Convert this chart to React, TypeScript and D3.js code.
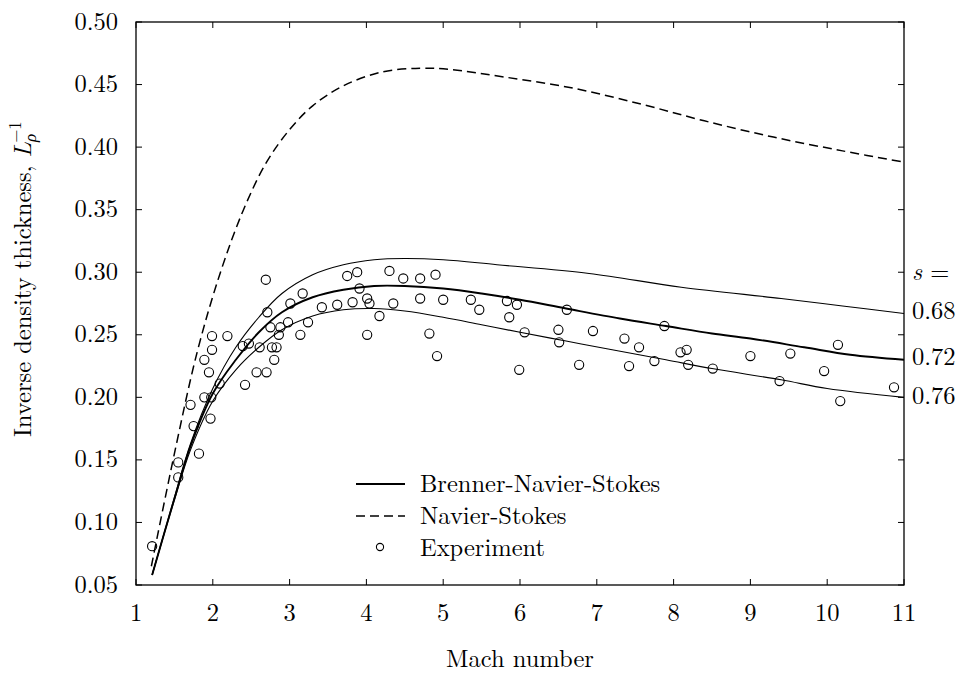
import React from "react";
import * as d3 from "d3";

// ---- data ----
const X_TICKS = [1, 2, 3, 4, 5, 6, 7, 8, 9, 10, 11];
const Y_TICKS = [0.05, 0.1, 0.15, 0.2, 0.25, 0.3, 0.35, 0.4, 0.45, 0.5];

const NS_X = [1.2, 1.5, 1.8, 2.1, 2.4, 2.7, 3.0, 3.3, 3.7, 4.2, 4.7, 5.1, 5.8, 6.7, 7.6, 8.4, 9.3, 10.2, 11];
const NS_Y = [0.065, 0.155, 0.237, 0.3, 0.35, 0.388, 0.414, 0.433, 0.449, 0.46, 0.463, 0.462, 0.456, 0.447, 0.434, 0.421, 0.408, 0.397, 0.388];

const S068_X = [1.21, 1.5, 1.71, 2.0, 2.3, 2.6, 2.9, 3.3, 3.7, 4.1, 4.5, 5.0, 5.7, 6.9, 8.1, 9.4, 10.2, 11];
const S068_Y = [0.058, 0.12, 0.163, 0.207, 0.24, 0.264, 0.283, 0.298, 0.306, 0.31, 0.311, 0.31, 0.306, 0.299, 0.288, 0.279, 0.273, 0.267];

const S072_X = [1.21, 1.5, 1.71, 2.0, 2.3, 2.6, 2.9, 3.3, 3.7, 4.1, 4.5, 5.0, 5.5, 6.0, 6.6, 7.3, 7.9, 8.5, 9.0, 9.7, 10.3, 11];
const S072_Y = [0.058, 0.119, 0.161, 0.203, 0.23, 0.252, 0.268, 0.28, 0.286, 0.289, 0.289, 0.287, 0.283, 0.278, 0.271, 0.263, 0.257, 0.251, 0.247, 0.24, 0.234, 0.23];

const S076_X = [1.21, 1.5, 1.71, 2.0, 2.3, 2.6, 2.9, 3.3, 3.7, 4.1, 4.5, 5.0, 5.5, 6.0, 6.6, 7.2, 7.9, 8.5, 9.4, 10.0, 11];
const S076_Y = [0.058, 0.118, 0.158, 0.197, 0.222, 0.24, 0.254, 0.265, 0.27, 0.271, 0.269, 0.264, 0.258, 0.252, 0.245, 0.238, 0.23, 0.223, 0.214, 0.207, 0.2];

const EXP_X = [1.21, 1.55, 1.55, 1.71, 1.75, 1.82, 1.97, 1.89, 1.98, 1.95, 1.89, 1.99, 1.99, 2.19, 2.09, 2.42, 2.39, 2.47, 2.61, 2.57, 2.7, 2.8, 2.77, 2.83, 2.86, 2.75, 2.88, 2.71, 2.69, 2.98, 3.14, 3.24, 3.01, 3.17, 3.42, 3.62, 3.75, 3.88, 3.91, 3.82, 4.01, 4.04, 4.01, 4.17, 4.3, 4.35, 4.48, 4.7, 4.9, 4.7, 5.0, 4.82, 4.92, 5.36, 5.47, 5.83, 5.96, 5.86, 6.06, 5.99, 6.61, 6.5, 6.51, 6.77, 6.95, 7.36, 7.55, 7.42, 7.75, 7.88, 8.09, 8.17, 8.19, 8.51, 9.0, 9.38, 9.52, 9.96, 10.14, 10.17, 10.87];
const EXP_Y = [0.081, 0.148, 0.136, 0.194, 0.177, 0.155, 0.183, 0.2, 0.2, 0.22, 0.23, 0.238, 0.249, 0.249, 0.211, 0.21, 0.241, 0.243, 0.24, 0.22, 0.22, 0.23, 0.24, 0.24, 0.25, 0.256, 0.256, 0.268, 0.294, 0.26, 0.25, 0.26, 0.275, 0.283, 0.272, 0.274, 0.297, 0.3, 0.287, 0.276, 0.279, 0.275, 0.25, 0.265, 0.301, 0.275, 0.295, 0.295, 0.298, 0.279, 0.278, 0.251, 0.233, 0.278, 0.27, 0.277, 0.274, 0.264, 0.252, 0.222, 0.27, 0.254, 0.244, 0.226, 0.253, 0.247, 0.24, 0.225, 0.229, 0.257, 0.236, 0.238, 0.226, 0.223, 0.233, 0.213, 0.235, 0.221, 0.242, 0.197, 0.208];

const S_LABELS = ["0.68", "0.72", "0.76"];
const LEGEND_LABELS = ["Brenner-Navier-Stokes", "Navier-Stokes", "Experiment"];

const W = 959;
const H = 675;
const FONT = "Latin Modern Roman";
const FS = 24.5;

export default function App() {
  const x = d3.scaleLinear().domain([1, 11]).range([136, 904]);
  const y = d3.scaleLinear().domain([0.05, 0.5]).range([585, 22]);

  const line = d3
    .line<[number, number]>()
    .x((d) => x(d[0]))
    .y((d) => y(d[1]))
    .curve(d3.curveCatmullRom.alpha(0.5));

  const zip = (xs: number[], ys: number[]) => xs.map((v, i) => [v, ys[i]] as [number, number]);

  const sCurves = [
    { xs: S068_X, ys: S068_Y, w: 1.1 },
    { xs: S072_X, ys: S072_Y, w: 1.9 },
    { xs: S076_X, ys: S076_Y, w: 1.1 },
  ];
  const sLabelY = [319, 365, 404];

  const [x0, x1] = x.range();
  const [yb, yt] = y.range();
  const tl = 6;

  return (
    <div style={{ position: "absolute", left: 0, top: 0, width: W, height: H, background: "#fff" }}>
      <svg width={W} height={H} style={{ display: "block" }}>
        <rect x={0} y={0} width={W} height={H} fill="#fff" />
        <defs>
          <clipPath id="plotclip">
            <rect x={x0} y={yt} width={x1 - x0} height={yb - yt} />
          </clipPath>
        </defs>

        {/* ticks */}
        {X_TICKS.map((t) => (
          <g key={"xt" + t}>
            <line x1={x(t)} x2={x(t)} y1={yb} y2={yb - tl} stroke="#000" strokeWidth={1} />
            <line x1={x(t)} x2={x(t)} y1={yt} y2={yt + tl} stroke="#000" strokeWidth={1} />
            <text x={x(t)} y={621} textAnchor="middle" fontSize={FS} fontFamily={FONT}>
              {t}
            </text>
          </g>
        ))}
        {Y_TICKS.map((t) => (
          <g key={"yt" + t}>
            <line x1={x0} x2={x0 + tl} y1={y(t)} y2={y(t)} stroke="#000" strokeWidth={1} />
            <line x1={x1} x2={x1 - tl} y1={y(t)} y2={y(t)} stroke="#000" strokeWidth={1} />
            <text x={118} y={y(t) + 7.5} textAnchor="end" fontSize={FS} fontFamily={FONT}>
              {t.toFixed(2)}
            </text>
          </g>
        ))}

        {/* curves */}
        <g clipPath="url(#plotclip)" fill="none" stroke="#000">
          <path d={line(zip(NS_X, NS_Y)) || ""} strokeWidth={1.5} strokeDasharray="9,5" />
          {sCurves.map((c, i) => (
            <path key={"s" + i} d={line(zip(c.xs, c.ys)) || ""} strokeWidth={c.w} />
          ))}
          {EXP_X.map((v, i) => (
            <circle key={"e" + i} cx={x(v)} cy={y(EXP_Y[i])} r={4.6} strokeWidth={1.1} />
          ))}
        </g>

        {/* frame */}
        <rect x={x0} y={yt} width={x1 - x0} height={yb - yt} fill="none" stroke="#000" strokeWidth={1.3} />

        {/* s labels */}
        <text x={912} y={280} fontSize={FS} fontFamily={FONT}>
          <tspan fontStyle="italic">s</tspan>
          <tspan> =</tspan>
        </text>
        {S_LABELS.map((s, i) => (
          <text key={"sl" + i} x={912} y={sLabelY[i]} fontSize={FS} fontFamily={FONT}>
            {s}
          </text>
        ))}

        {/* legend */}
        <line x1={356} x2={405} y1={484} y2={484} stroke="#000" strokeWidth={1.9} />
        <line x1={356} x2={405} y1={516} y2={516} stroke="#000" strokeWidth={1.5} strokeDasharray="9,5" />
        <circle cx={380} cy={547} r={3.6} fill="none" stroke="#000" strokeWidth={1.1} />
        {LEGEND_LABELS.map((l, i) => (
          <text key={"lg" + i} x={420} y={492 + i * 32} fontSize={FS} fontFamily={FONT}>
            {l}
          </text>
        ))}

        {/* axis titles */}
        <text x={(x0 + x1) / 2} y={667} textAnchor="middle" fontSize={FS} fontFamily={FONT}>
          Mach number
        </text>
        <text transform="translate(31,437) rotate(-90)" textAnchor="start" fontSize={FS} fontFamily={FONT}>
          <tspan>Inverse density thickness, </tspan>
          <tspan fontStyle="italic">L</tspan>
          <tspan fontStyle="italic" fontSize={17} dy={5}>ρ</tspan>
          <tspan fontSize={17} dy={-15} dx={-9}>−1</tspan>
        </text>
      </svg>
    </div>
  );
}
